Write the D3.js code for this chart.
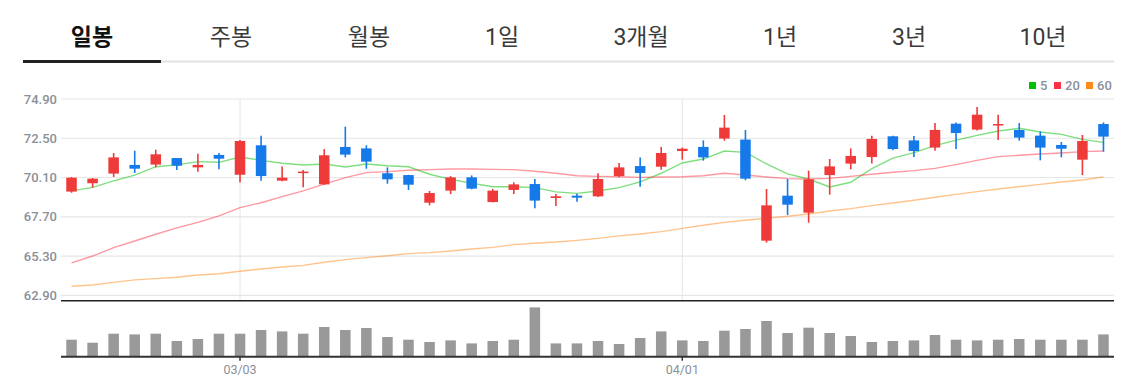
<!DOCTYPE html>
<html>
<head>
<meta charset="utf-8">
<script src="https://cdn.jsdelivr.net/npm/d3@7"></script>
<style>
  html, body { margin: 0; padding: 0; background: #fff; }
  #chart svg { display: block; }
</style>
</head>
<body>
<div id="chart"></div>
<script>
// Period tabs
const tabs = ['일봉', '주봉', '월봉', '1일', '3개월', '1년', '3년', '10년'];

// Trading days (MM/DD)
const dates = [
    '02/19', '02/20', '02/21', '02/24', '02/25', '02/26', '02/27', '02/28',
    '03/03', '03/04', '03/05', '03/06', '03/07', '03/10', '03/11', '03/12',
    '03/13', '03/14', '03/17', '03/18', '03/19', '03/20', '03/21', '03/24',
    '03/25', '03/26', '03/27', '03/28', '03/31', '04/01', '04/02', '04/03',
    '04/04', '04/07', '04/08', '04/09', '04/10', '04/11', '04/14', '04/15',
    '04/16', '04/17', '04/21', '04/22', '04/23', '04/24', '04/25', '04/28',
    '04/29', '04/30'
];

const open = [
    69.24, 69.75, 70.34, 70.87, 70.89, 71.29, 70.72, 71.48, 70.27, 72.07,
    69.91, 70.40, 69.68, 71.97, 71.88, 70.36, 70.25, 68.56, 69.30, 70.11,
    68.60, 69.34, 69.70, 68.85, 68.99, 68.95, 70.19, 70.80, 70.76, 71.72,
    71.97, 72.48, 72.42, 66.24, 68.99, 67.95, 70.25, 70.95, 71.35, 72.62,
    72.37, 71.93, 73.39, 73.03, 73.29, 73.01, 72.66, 72.09, 71.19, 73.37
];
const high = [
    70.13, 70.07, 71.60, 71.74, 71.80, 71.30, 71.56, 71.60, 72.39, 72.66,
    70.78, 70.56, 71.84, 73.21, 72.07, 70.72, 70.27, 69.28, 70.19, 70.23,
    69.40, 69.81, 70.01, 69.09, 69.11, 70.36, 70.99, 71.33, 71.97, 71.93,
    72.37, 73.92, 73.01, 69.40, 70.01, 70.52, 71.23, 71.88, 72.66, 72.66,
    72.64, 73.43, 73.47, 74.41, 73.94, 73.43, 72.92, 72.27, 72.70, 73.47
];
const low = [
    69.17, 69.48, 70.13, 70.38, 70.72, 70.56, 70.46, 70.60, 69.79, 69.91,
    69.87, 69.50, 69.66, 71.33, 70.64, 69.72, 69.34, 68.40, 69.09, 69.38,
    68.58, 69.09, 68.22, 68.36, 68.62, 68.91, 70.11, 69.54, 70.58, 71.19,
    71.13, 72.35, 69.93, 66.12, 67.81, 67.34, 69.05, 70.60, 70.95, 71.76,
    71.35, 71.74, 71.84, 72.97, 72.39, 72.35, 71.15, 71.33, 70.25, 71.68
];
const close = [
    70.09, 70.03, 71.33, 70.64, 71.52, 70.82, 70.87, 71.25, 72.33, 70.19,
    70.09, 70.46, 71.46, 71.50, 71.07, 69.99, 69.66, 69.15, 70.11, 69.42,
    69.30, 69.68, 68.69, 68.95, 68.87, 70.01, 70.72, 70.38, 71.60, 71.86,
    71.33, 73.15, 70.03, 68.40, 68.44, 69.99, 70.78, 71.42, 72.46, 71.84,
    71.72, 73.01, 72.82, 73.94, 73.37, 72.54, 71.93, 71.86, 72.33, 72.60
];

// Moving averages (5 / 20 / 60 days)
const ma5 = [
    69.28, 69.50, 69.89, 70.25, 70.76, 70.87, 71.07, 71.03, 71.35, 71.15,
    70.97, 70.87, 70.93, 70.74, 70.93, 70.82, 70.76, 70.30, 69.99, 69.75,
    69.54, 69.54, 69.48, 69.22, 69.13, 69.28, 69.48, 69.83, 70.36, 70.99,
    71.23, 71.72, 71.64, 70.93, 70.32, 70.01, 69.52, 69.81, 70.64, 71.29,
    71.62, 72.05, 72.39, 72.68, 72.94, 73.11, 72.88, 72.74, 72.43, 72.25
];
const ma20 = [
    64.88, 65.30, 65.81, 66.22, 66.63, 67.02, 67.36, 67.75, 68.26, 68.56,
    68.93, 69.28, 69.70, 70.09, 70.40, 70.46, 70.54, 70.58, 70.62, 70.62,
    70.60, 70.58, 70.48, 70.36, 70.21, 70.17, 70.15, 70.11, 70.13, 70.15,
    70.21, 70.36, 70.25, 70.13, 70.03, 70.01, 70.05, 70.17, 70.30, 70.42,
    70.52, 70.66, 70.89, 71.15, 71.38, 71.46, 71.54, 71.60, 71.68, 71.72
];
const ma60 = [
    63.45, 63.53, 63.69, 63.84, 63.92, 64.00, 64.14, 64.22, 64.37, 64.51,
    64.63, 64.73, 64.92, 65.08, 65.20, 65.32, 65.45, 65.51, 65.61, 65.73,
    65.83, 66.00, 66.08, 66.16, 66.26, 66.38, 66.53, 66.65, 66.79, 66.99,
    67.18, 67.36, 67.49, 67.61, 67.73, 67.87, 68.05, 68.20, 68.38, 68.54,
    68.71, 68.89, 69.07, 69.24, 69.40, 69.54, 69.68, 69.83, 69.95, 70.13
];

// Volume (relative units)
const volume = [
    17.0, 14.0, 23.0, 22.3, 23.0, 15.7, 17.7, 23.0, 23.0, 26.7,
    25.3, 23.0, 29.7, 26.7, 28.7, 19.7, 17.0, 14.7, 16.3, 13.3,
    15.7, 17.0, 49.3, 13.3, 13.3, 15.7, 12.7, 18.7, 25.3, 16.3,
    15.7, 26.0, 27.7, 35.7, 23.7, 29.0, 23.7, 20.7, 14.7, 15.7,
    16.3, 21.7, 17.0, 16.3, 17.0, 17.7, 17.0, 17.0, 17.0, 22.3
];

const priceTicks = [62.90, 65.30, 67.70, 70.10, 72.50, 74.90];
const dateTicks = ['03/03', '04/01'];

const maSeries = [
    { name: '5', values: ma5, color: '#00c000' },
    { name: '20', values: ma20, color: '#ff3344' },
    { name: '60', values: ma60, color: '#ff8a1c' }
];

(function () {
    const width = 1141;
    const height = 384;
    const left = 61, right = 1114;

    const upColor = '#ef3a3a';
    const downColor = '#1579ea';
    const labelColor = '#8b9099';

    const svg = d3.select('#chart')
        .append('svg')
        .attr('width', width)
        .attr('height', height);

    // Tabs — label centres as laid out by the page
    const tabX = [92, 231, 369, 502, 641, 780, 909, 1043];

    svg.append('line')
        .attr('x1', 23).attr('x2', right)
        .attr('y1', 61.5).attr('y2', 61.5)
        .attr('stroke', '#e2e2e2')
        .attr('stroke-width', 2);

    svg.append('rect')
        .attr('x', 23)
        .attr('y', 60)
        .attr('width', 138)
        .attr('height', 3)
        .attr('fill', '#222');

    svg.append('g')
        .selectAll('text')
        .data(tabs)
        .join('text')
        .attr('x', (d, i) => tabX[i])
        .attr('y', 45)
        .attr('text-anchor', 'middle')
        .attr('font-family', "Roboto, 'Noto Sans CJK KR', sans-serif")
        .attr('font-size', '23px')
        .attr('font-weight', (d, i) => i === 0 ? 'bold' : 'normal')
        .attr('fill', (d, i) => i === 0 ? '#111' : '#3a3a3a')
        .text(d => d);

    // Scales
    const idx = d3.range(dates.length);
    const x = d3.scaleBand()
        .domain(idx)
        .range([left, right])
        .paddingInner(0.5)
        .paddingOuter(0.25);
    const cx = i => x(i) + x.bandwidth() / 2;

    const y = d3.scaleLinear()
        .domain([62.9, 74.9])
        .range([295.3, 99]);

    const yVol = d3.scaleLinear()
        .domain([0, 54])
        .range([356.7, 302.7]);

    // Horizontal grid
    svg.append('g')
        .selectAll('line')
        .data(priceTicks)
        .join('line')
        .attr('x1', left).attr('x2', right)
        .attr('y1', d => y(d)).attr('y2', d => y(d))
        .attr('stroke', '#e6e6e6')
        .attr('stroke-width', 1.2);

    // Vertical grid at labelled dates
    const tickIdx = dateTicks.map(t => dates.indexOf(t));
    svg.append('g')
        .selectAll('line')
        .data(tickIdx)
        .join('line')
        .attr('x1', d => cx(d)).attr('x2', d => cx(d))
        .attr('y1', 99).attr('y2', 300)
        .attr('stroke', '#e6e6e6')
        .attr('stroke-width', 1);

    // Price axis labels
    const yAxis = svg.append('g')
        .attr('transform', `translate(${left},0)`)
        .call(d3.axisLeft(y)
            .tickValues(priceTicks)
            .tickFormat(d3.format('.2f'))
            .tickSize(0)
            .tickPadding(4));
    yAxis.select('.domain').remove();
    yAxis.selectAll('text')
        .attr('font-family', 'Roboto, sans-serif')
        .attr('font-size', '13px')
        .attr('font-weight', 500)
        .attr('fill', labelColor);

    // Moving average lines
    const line = d3.line()
        .x((d, i) => cx(i))
        .y(d => y(d));

    svg.append('g')
        .selectAll('path')
        .data(maSeries)
        .join('path')
        .attr('d', d => line(d.values))
        .attr('fill', 'none')
        .attr('stroke', d => d.color)
        .attr('stroke-opacity', 0.5)
        .attr('stroke-width', 1.4);

    // Candles
    const candle = svg.append('g')
        .selectAll('g')
        .data(idx)
        .join('g')
        .attr('fill', i => close[i] >= open[i] ? upColor : downColor)
        .attr('stroke', i => close[i] >= open[i] ? upColor : downColor);

    candle.append('line')
        .attr('x1', i => cx(i)).attr('x2', i => cx(i))
        .attr('y1', i => y(high[i])).attr('y2', i => y(low[i]))
        .attr('stroke-width', 1.6);

    candle.append('rect')
        .attr('x', i => x(i))
        .attr('width', x.bandwidth())
        .attr('y', i => y(Math.max(open[i], close[i])))
        .attr('height', i => Math.max(1.5, Math.abs(y(open[i]) - y(close[i]))))
        .attr('stroke', 'none');

    // Divider between price and volume panes
    svg.append('line')
        .attr('x1', left).attr('x2', right)
        .attr('y1', 300.7).attr('y2', 300.7)
        .attr('stroke', '#222')
        .attr('stroke-width', 1.5);

    // Volume bars
    svg.append('g')
        .selectAll('rect')
        .data(idx)
        .join('rect')
        .attr('x', i => x(i))
        .attr('width', x.bandwidth())
        .attr('y', i => yVol(volume[i]))
        .attr('height', i => yVol(0) - yVol(volume[i]))
        .attr('fill', '#999');

    // Date axis
    const xAxis = svg.append('g')
        .attr('transform', `translate(0,${yVol(0)})`)
        .call(d3.axisBottom(x)
            .tickValues(tickIdx)
            .tickFormat(i => dates[i])
            .tickSize(4)
            .tickPadding(4));
    xAxis.select('.domain')
        .attr('d', `M${left},0H${right}`)
        .attr('stroke', '#333')
        .attr('stroke-width', 2);
    xAxis.selectAll('.tick line')
        .attr('stroke', '#333')
        .attr('stroke-width', 1.5);
    xAxis.selectAll('text')
        .attr('font-family', 'Roboto, sans-serif')
        .attr('font-size', '12.5px')
        .attr('fill', labelColor);

    // Legend
    const legend = svg.append('g')
        .attr('transform', 'translate(1029,82)');
    const offsets = [0, 25, 57];
    const item = legend.selectAll('g')
        .data(maSeries)
        .join('g')
        .attr('transform', (d, i) => `translate(${offsets[i]},0)`);
    item.append('rect')
        .attr('width', 7).attr('height', 7)
        .attr('fill', d => d.color);
    item.append('text')
        .attr('x', 11).attr('y', 7.5)
        .attr('font-family', 'Roboto, sans-serif')
        .attr('font-size', '13px')
        .attr('font-weight', 500)
        .attr('fill', labelColor)
        .text(d => d.name);
})();
</script>
</body>
</html>
